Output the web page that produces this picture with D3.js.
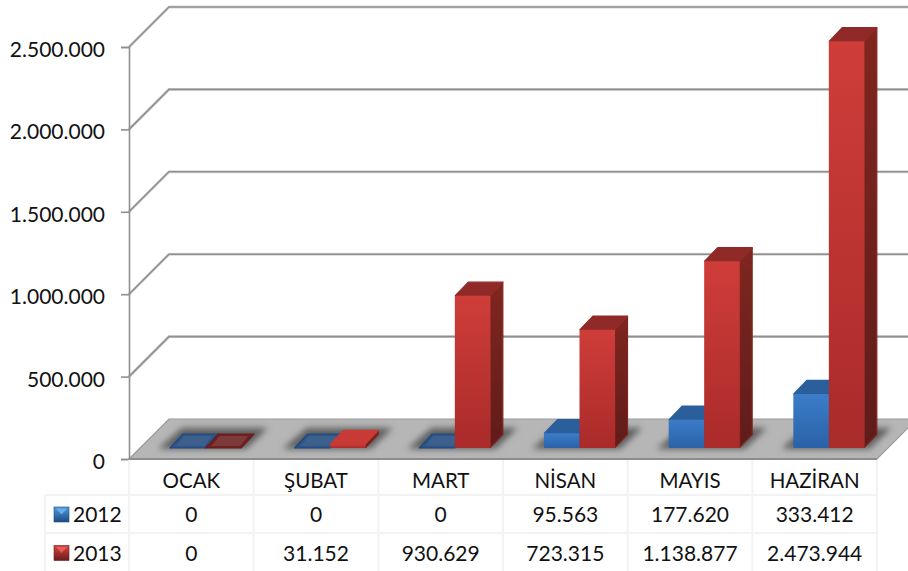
<!DOCTYPE html>
<html><head><meta charset="utf-8">
<script src="https://cdnjs.cloudflare.com/ajax/libs/d3/7.8.5/d3.min.js"></script>
<style>html,body{margin:0;padding:0;background:#fff}svg{display:block}text{font-family:Lato,"Open Sans",sans-serif;fill:#111}</style>
</head><body><svg id="c" width="908" height="571"></svg>
<script>
const categories = ["OCAK","ŞUBAT","MART","NİSAN","MAYIS","HAZİRAN"];
const seriesNames = ["2012","2013"];
const values2012 = [0,0,0,95563,177620,333412];
const values2013 = [0,31152,930629,723315,1138877,2473944];
const yTicks = [0,500000,1000000,1500000,2000000,2500000];

const svg = d3.select("#c");
const W=908,H=571;
const fmt = d3.formatLocale({decimal:",",thousands:".",grouping:[3],currency:["",""]}).format(",d");
const x = d3.scaleBand().domain(categories).range([129,877]);
const inner = d3.scaleBand().domain(seriesNames).range([41,41+71]);
const y = d3.scaleLinear().domain([0,2500000]).range([459,47]);
const wall={dx:40,dy:-40}, bar={dx:13,dy:-14}, baseOffset=-11, bevel=1;
const colors={
 "2012":{front:["#3b7cc8","#2a62a8"],top:"#2a5f9c",side:["#23558f","#1b4474"],flat:"#2c5488",flatIn:"#3d5f8c",edge:"#1f4a80",shortTop:"#2f6bb0"},
 "2013":{front:["#cf3d39","#a92b2a"],top:"#8f2a28",side:["#80261f","#5f1c1a"],flat:"#6f2020",flatIn:"#7c3a3a",edge:"#6a1c1c",shortTop:"#c83a36"}
};
const defs=svg.append("defs");
defs.append("filter").attr("id","blur").attr("x","-20%").attr("y","-60%").attr("width","140%").attr("height","220%")
  .append("feGaussianBlur").attr("stdDeviation",3.2);
function grad(id,c1,c2,v){const g=defs.append("linearGradient").attr("id",id).attr("x1",0).attr("y1",0).attr("x2",v?0:1).attr("y2",v?1:0);
  g.append("stop").attr("offset",0).attr("stop-color",c1);g.append("stop").attr("offset",1).attr("stop-color",c2);}
seriesNames.forEach(s=>{const c=colors[s];
  grad("f"+s,c.front[0],c.front[1],true);grad("s"+s,c.side[0],c.side[1],true);
  grad("k"+s,s==="2012"?"#4f9be0":"#d8453f",s==="2012"?"#1f4a80":"#6a1c1c",true);});

// walls: gridlines
const grid=svg.append("g");
yTicks.slice(1).forEach(t=>{
  const yy=y(t);
  const pts=[[x.range()[0],yy],[x.range()[0]+wall.dx,yy+wall.dy],[W+2,yy+wall.dy]];
  const line=d3.line();
  grid.append("path").attr("d",line(pts)).attr("fill","none").attr("stroke","#d8d8d8").attr("stroke-width",3);
  grid.append("path").attr("d",line(pts)).attr("fill","none").attr("stroke","#8f8f8f").attr("stroke-width",1.6);
});
// floor
const x0=x.range()[0],x1=x.range()[1],y0=y(0);
svg.append("path").attr("d",d3.line()([[x0,y0],[x0+wall.dx,y0+wall.dy],[x1+wall.dx,y0+wall.dy],[x1,y0]])+"Z")
  .attr("fill","#b6b6b6").attr("stroke","#9a9a9a").attr("stroke-width",1.2);
svg.append("line").attr("x1",x0).attr("x2",x1).attr("y1",y0).attr("y2",y0).attr("stroke","#8c8c8c").attr("stroke-width",2);

// axis
const axis=d3.axisLeft(y).tickValues(yTicks).tickFormat(fmt).tickSize(8).tickPadding(16);
const ag=svg.append("g").attr("transform","translate(129,0)").call(axis);
ag.select(".domain").attr("stroke","#8f8f8f").attr("stroke-width",1.6);
ag.selectAll(".tick line").attr("stroke","#8f8f8f").attr("stroke-width",1.6);
ag.selectAll("text").attr("font-size",21).attr("dy","0.45em").style("font-family","Lato").attr("fill","#111");

// shadows
const base=y0+baseOffset;
const shadow=svg.append("g").attr("filter","url(#blur)");
categories.forEach(c=>{
  const a=x(c)+inner(seriesNames[0]), b=x(c)+inner(seriesNames[1])+inner.bandwidth();
  shadow.append("path").attr("d",d3.line()([[a-12,base+1],[a+12,base-20],[b+27,base-20],[b+5,base+1]])+"Z").attr("fill","#5f5f5f");
});

// bars
const gBars=svg.append("g");
function drawBar(cat,s,v){
  const c=colors[s];
  const l=x(cat)+inner(s), r=l+inner.bandwidth();
  const t=base-(y0-y(v))+(v>0?bevel:0), dx=bar.dx, dy=bar.dy;
  const g=gBars.append("g");
  const L=d3.line();
  if(v===0){
    g.append("path").attr("d",L([[l,base],[l+dx,base+dy],[r+dx,base+dy],[r,base]])+"Z").attr("fill",c.flat).attr("stroke",c.edge).attr("stroke-width",1.2).attr("stroke-linejoin","round");
    g.append("path").attr("d",L([[l+6,base-2],[l+dx+1,base+dy+2],[r+dx-6,base+dy+2],[r-1,base-2]])+"Z").attr("fill",c.flatIn);
    return;
  }
  const short=(base-t)<8, topFill=short?c.shortTop:c.top;
  g.append("path").attr("d",L([[r,base-.5],[r+dx-.5,base+dy+.5],[r+dx-.5,t+dy+.5],[r,t]])+"Z").attr("fill",`url(#s${s})`)
    .attr("stroke",c.side[0]).attr("stroke-width",1.2).attr("stroke-linejoin","round");
  g.append("path").attr("d",L([[l+.5,t],[l+dx+.5,t+dy+.5],[r+dx-.5,t+dy+.5],[r,t]])+"Z").attr("fill",topFill).attr("stroke",topFill).attr("stroke-width",1.4).attr("stroke-linejoin","round");
  g.append("rect").attr("x",l).attr("y",t).attr("width",r-l).attr("height",base-t).attr("fill",`url(#f${s})`).attr("rx",1.2);
}
categories.forEach((cat,i)=>{drawBar(cat,"2012",values2012[i]);drawBar(cat,"2013",values2013[i]);});

// data table
const rows=[495,533], tg=svg.append("g");
const tableStroke="#f3f3f3";
[...categories.map(c=>x(c)),x1].forEach(v=>tg.append("line").attr("x1",v).attr("x2",v).attr("y1",460).attr("y2",H).attr("stroke",tableStroke).attr("stroke-width",2));
tg.append("line").attr("x1",45).attr("x2",45).attr("y1",495).attr("y2",H).attr("stroke",tableStroke).attr("stroke-width",2);
rows.forEach(v=>tg.append("line").attr("x1",45).attr("x2",x1).attr("y1",v).attr("y2",v).attr("stroke",tableStroke).attr("stroke-width",2));
const cell=(cx,cy,t,a,fs)=>tg.append("text").attr("x",cx).attr("y",cy).attr("text-anchor",a||"middle").attr("dy","0.36em").attr("font-size",fs||21).text(t);
categories.forEach((c,i)=>{
  const cx=x(c)+x.bandwidth()/2;
  cell(cx,481,c,"middle",20.5);
  cell(cx,514.5,fmt(values2012[i]));
  cell(cx,553,fmt(values2013[i]));
});
seriesNames.forEach((s,i)=>{
  const cy=[514.5,553][i];
  tg.append("rect").attr("x",54).attr("y",cy-7.5).attr("width",15).attr("height",15).attr("fill",`url(#k${s})`).attr("stroke",colors[s].edge).attr("stroke-width",.6);
  tg.append("path").attr("d",d3.line()([[56,cy-6],[67,cy-6],[61.5,cy]])+"Z").attr("fill",s==="2012"?"#6db4ee":"#e8605a").attr("opacity",.9);
  cell(73,cy,s,"start");
});
</script></body></html>
